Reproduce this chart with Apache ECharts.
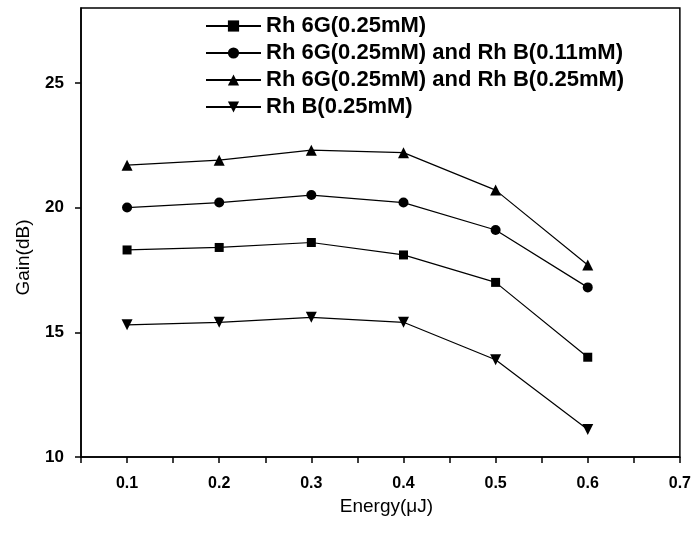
<!DOCTYPE html>
<html>
<head>
<meta charset="utf-8">
<title>Gain vs Energy</title>
<script src="https://cdn.jsdelivr.net/npm/echarts@6/dist/echarts.min.js"></script>
<style>
    html, body { margin: 0; padding: 0; background: #fff; }
    #chart { width: 694px; height: 536px; }
</style>
</head>
<body>
<div id="chart"></div>
<script>
// 数据：能量(μJ) 与 增益(dB)
var energy = [0.1, 0.2, 0.3, 0.4, 0.5, 0.6];
var seriesNames = [
    'Rh 6G(0.25mM)',
    'Rh 6G(0.25mM) and Rh B(0.11mM)',
    'Rh 6G(0.25mM) and Rh B(0.25mM)',
    'Rh B(0.25mM)'
];
var gainRh6G = [18.3, 18.4, 18.6, 18.1, 17.0, 14.0];
var gainMix011 = [20.0, 20.2, 20.5, 20.2, 19.1, 16.8];
var gainMix025 = [21.7, 21.9, 22.3, 22.2, 20.7, 17.7];
var gainRhB = [15.3, 15.4, 15.6, 15.4, 13.9, 11.1];
var xTicks = [0.05, 0.1, 0.15, 0.2, 0.25, 0.3, 0.35, 0.4, 0.45, 0.5, 0.55, 0.6, 0.65, 0.7];
var xLabels = [0.1, 0.2, 0.3, 0.4, 0.5, 0.6, 0.7];
var yTicks = [10, 15, 20, 25];

function pairs(ys) {
    var out = [];
    for (var i = 0; i < energy.length; i++) {
        out.push([energy[i], ys[i]]);
    }
    return out;
}

function makeSeries(name, ys, symbol, size) {
    return {
        name: name,
        type: 'line',
        data: pairs(ys),
        symbol: symbol,
        symbolSize: size,
        showAllSymbol: true,
        itemStyle: { color: '#000' },
        lineStyle: { color: '#000', width: 1.2 },
        emphasis: { disabled: true },
        animation: false
    };
}

var chart = echarts.init(document.getElementById('chart'));
var option = {
    backgroundColor: '#fff',
    grid: {
        left: 81, right: 14, top: 8, bottom: 79,
        show: true,
        borderColor: '#000',
        borderWidth: 1.5,
        backgroundColor: 'transparent'
    },
    legend: {
        orient: 'vertical',
        left: 200,
        top: 10,
        itemWidth: 55,
        itemHeight: 14,
        itemGap: 5,
        data: seriesNames,
        textStyle: {
            fontFamily: 'Liberation Sans, Arial, sans-serif',
            fontSize: 22,
            fontWeight: 'bold',
            lineHeight: 22,
            color: '#000'
        }
    },
    xAxis: {
        type: 'value',
        min: 0.05,
        max: 0.7,
        name: 'Energy(μJ)',
        nameLocation: 'middle',
        nameGap: 39,
        nameTextStyle: {
            fontFamily: 'Liberation Sans, Arial, sans-serif',
            fontSize: 19,
            color: '#000',
            padding: [0, 0, 0, 12]
        },
        axisLine: { lineStyle: { color: '#000', width: 1.5 } },
        axisTick: {
            inside: false, length: 6,
            lineStyle: { color: '#000', width: 1.5 },
            customValues: xTicks
        },
        axisLabel: {
            customValues: xLabels,
            margin: 19,
            fontFamily: 'Liberation Sans, Arial, sans-serif',
            fontSize: 16,
            fontWeight: 'bold',
            color: '#000',
            formatter: function (v) { return v.toFixed(1); }
        },
        splitLine: { show: false }
    },
    yAxis: {
        type: 'value',
        min: 10,
        max: 28,
        name: 'Gain(dB)',
        nameLocation: 'middle',
        nameGap: 48,
        nameTextStyle: {
            fontFamily: 'Liberation Sans, Arial, sans-serif',
            fontSize: 19,
            color: '#000',
            padding: [0, 50, 0, 0]
        },
        axisLine: { lineStyle: { color: '#000', width: 1.5 } },
        axisTick: {
            inside: false, length: 6,
            lineStyle: { color: '#000', width: 1.5 },
            customValues: yTicks
        },
        axisLabel: {
            customValues: yTicks,
            margin: 17,
            fontFamily: 'Liberation Sans, Arial, sans-serif',
            fontSize: 17,
            fontWeight: 'bold',
            color: '#000'
        },
        splitLine: { show: false }
    },
    series: [
        makeSeries(seriesNames[0], gainRh6G, 'rect', 9),
        makeSeries(seriesNames[1], gainMix011, 'circle', 10),
        makeSeries(seriesNames[2], gainMix025, 'triangle', 11),
        makeSeries(seriesNames[3], gainRhB, 'path://M0,0L10,0L5,9Z', 11)
    ]
};
chart.setOption(option, true);
</script>
</body>
</html>
